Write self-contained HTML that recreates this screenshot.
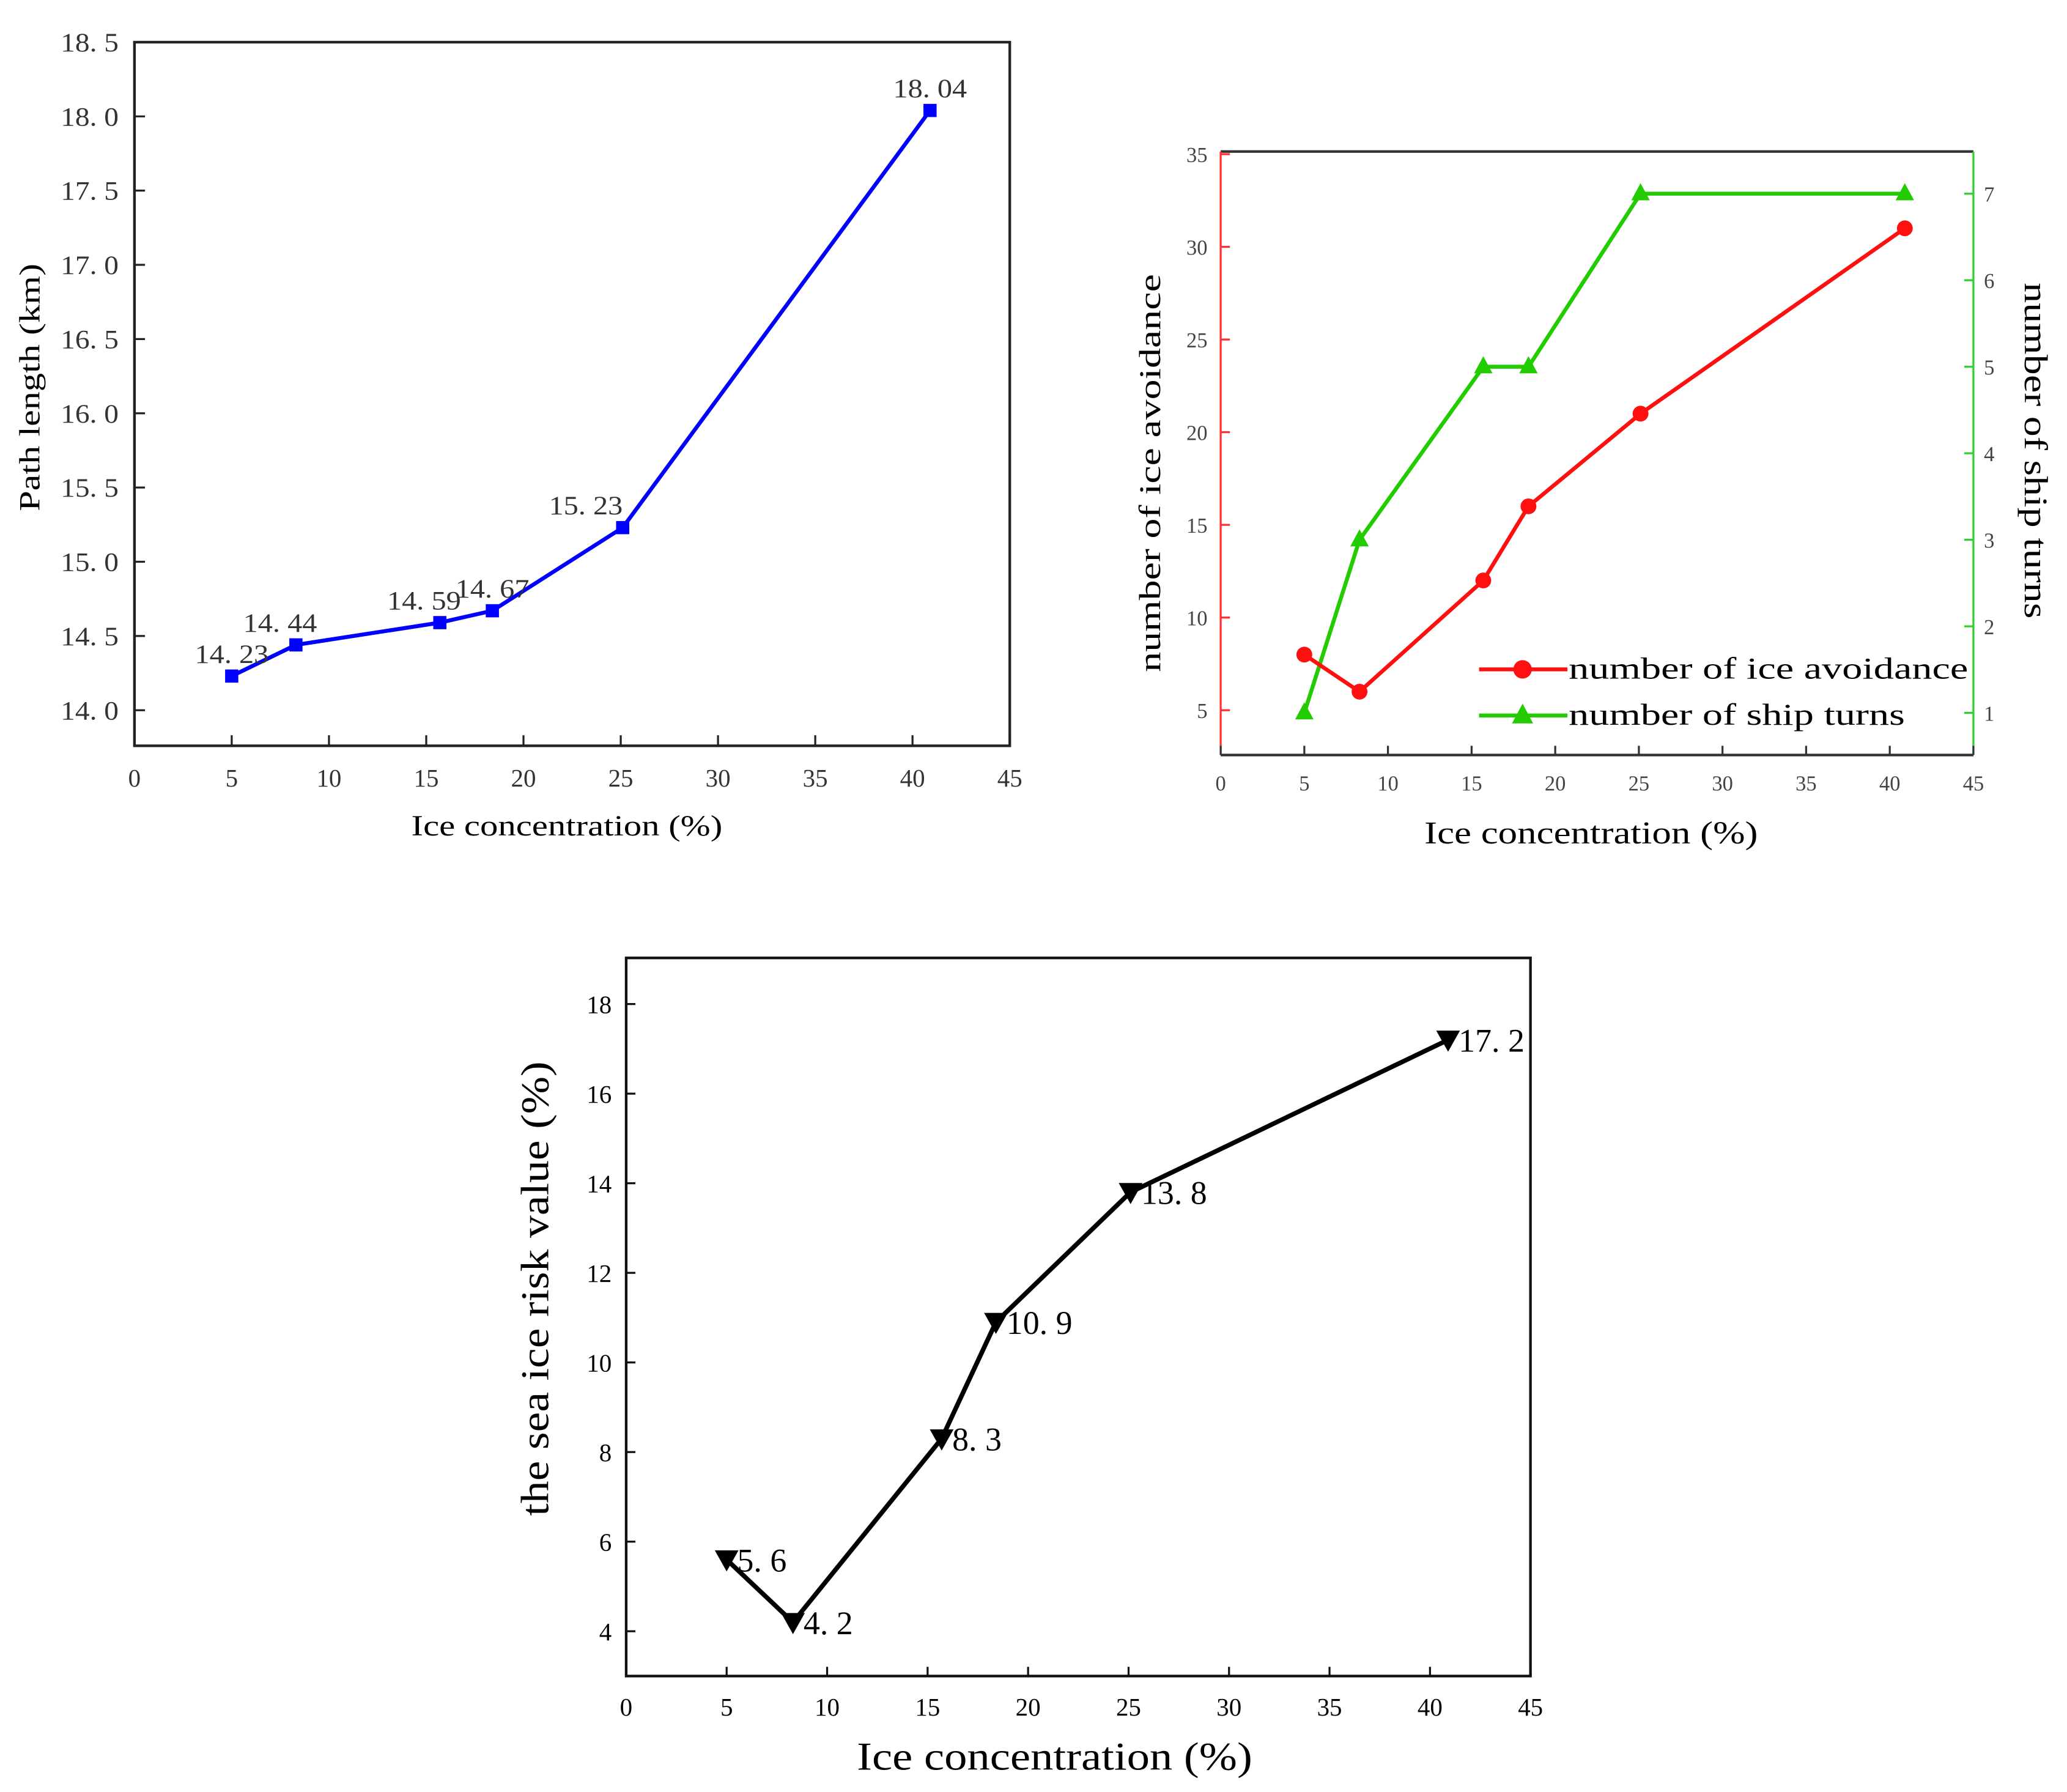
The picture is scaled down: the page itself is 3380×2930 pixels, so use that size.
<!DOCTYPE html>
<html><head><meta charset="utf-8"><style>
html,body{margin:0;padding:0;background:#fff;}
svg{display:block;}
text{font-family:"Liberation Serif",serif;}
</style></head><body>
<svg id="fig" width="3380" height="2930" viewBox="0 0 1568 1360" preserveAspectRatio="none" xmlns="http://www.w3.org/2000/svg">
<rect width="1568" height="1360" fill="#fff"/>
</svg>
<script>
const xVals = [5, 8.3, 15.7, 18.4, 25.1, 40.9];
const pathLen = [14.23, 14.44, 14.59, 14.67, 15.23, 18.04];
const pathLabels = ["14.23","14.44","14.59","14.67","15.23","18.04"];
const iceAvoid = [8, 6, 12, 16, 21, 31];
const shipTurns = [1, 3, 5, 5, 7, 7];
const riskVals = [5.6, 4.2, 8.3, 10.9, 13.8, 17.2];
const riskLabels = ["5.6","4.2","8.3","10.9","13.8","17.2"];
const xTicks = [0,5,10,15,20,25,30,35,40,45];
const y1Ticks = [14.0,14.5,15.0,15.5,16.0,16.5,17.0,17.5,18.0,18.5];
const y2Ticks = [5,10,15,20,25,30,35];
const y2rTicks = [1,2,3,4,5,6,7];
const y3Ticks = [4,6,8,10,12,14,16,18];

const svg = document.getElementById('fig');
const NS = 'http://www.w3.org/2000/svg';
function el(tag, attrs, parent){const e=document.createElementNS(NS,tag);for(const k in attrs)e.setAttribute(k,attrs[k]);(parent||svg).appendChild(e);return e;}
function txt(s, attrs, parent){const e=el('text',attrs,parent);e.textContent=s;if(attrs.textLength)e.setAttribute('lengthAdjust','spacingAndGlyphs');return e;}
function lin(d0,d1,r0,r1){return v=>r0+(v-d0)/(d1-d0)*(r1-r0);}

// ---------- Chart 1 ----------
const g1 = el('g',{});


const x1 = lin(0,45,102,766), y1 = lin(14.0,18.5,539,32);
const f1 = el('rect',{x:102,y:32,width:664,height:534,fill:'none',stroke:'#222','stroke-width':2},g1);


xTicks.forEach(t=>{
  el('line',{x1:x1(t),x2:x1(t),y1:566,y2:558,stroke:'#222','stroke-width':1.5},g1);
  const l=txt(String(t),{x:x1(t),y:597,'font-size':19,'text-anchor':'middle',fill:'#333'},g1);
  
  
});
y1Ticks.forEach(t=>{
  el('line',{x1:102,x2:110,y1:y1(t),y2:y1(t),stroke:'#222','stroke-width':1.5},g1);
  const l=txt(t.toFixed(1).replace('.','. '),{x:90,y:y1(t)+7,'font-size':20,'text-anchor':'end',fill:'#333',textLength:44},g1);
  
  
});
const p1 = el('polyline',{points:xVals.map((x,i)=>x1(x)+','+y1(pathLen[i])).join(' '),fill:'none',stroke:'#0000ff','stroke-width':3},g1);


xVals.forEach((x,i)=>{
  const m=el('rect',{x:x1(x)-5,y:y1(pathLen[i])-5,width:10,height:10,fill:'#0000ff'},g1);
  
  
  const dx = i===5?0:(i===4?-28:(i===0?0:(i===3?0:-12)));
  const l=txt(pathLabels[i].replace('.','. '),{x:x1(x)+dx,y:y1(pathLen[i])-10,'font-size':20,'text-anchor':'middle',fill:'#333',textLength:56},g1);
  
  
});
const yt1=txt('Path length (km)',{x:0,y:0,'font-size':22,'text-anchor':'middle',transform:'translate(30,294) rotate(-90)',textLength:188},g1);


const xt1=txt('Ice concentration (%)',{x:430,y:634,'font-size':22,'text-anchor':'middle',textLength:236},g1);



// ---------- Chart 2 ----------
const g2 = el('g',{});


const x2 = lin(0,45,926,1497), y2 = lin(5,35,539,117), y2r = lin(1,7,541,147);
el('line',{x1:926,x2:1497,y1:115,y2:115,stroke:'#333','stroke-width':2},g2);
el('line',{x1:926,x2:1497,y1:573,y2:573,stroke:'#333','stroke-width':2},g2);
const la=el('line',{x1:926,x2:926,y1:115,y2:573,stroke:'#ff3030','stroke-width':1.5},g2);


const ra=el('line',{x1:1497,x2:1497,y1:115,y2:573,stroke:'#30d030','stroke-width':1.5},g2);


xTicks.forEach(t=>{
  el('line',{x1:x2(t),x2:x2(t),y1:573,y2:566,stroke:'#333','stroke-width':1.5},g2);
  const l=txt(String(t),{x:x2(t),y:600,'font-size':16,'text-anchor':'middle',fill:'#444'},g2);
  
  
});
y2Ticks.forEach(t=>{
  el('line',{x1:926,x2:933,y1:y2(t),y2:y2(t),stroke:'#ff3030','stroke-width':1.5},g2);
  const l=txt(String(t),{x:916,y:y2(t)+6,'font-size':16,'text-anchor':'end',fill:'#444'},g2);
  
  
});
y2rTicks.forEach(t=>{
  el('line',{x1:1490,x2:1497,y1:y2r(t),y2:y2r(t),stroke:'#30d030','stroke-width':1.5},g2);
  const l=txt(String(t),{x:1505,y:y2r(t)+6,'font-size':16,fill:'#444'},g2);
  
  
});
const ls2=el('polyline',{points:xVals.map((x,i)=>x2(x)+','+y2r(shipTurns[i])).join(' '),fill:'none',stroke:'#22cc00','stroke-width':3},g2);


const ls1=el('polyline',{points:xVals.map((x,i)=>x2(x)+','+y2(iceAvoid[i])).join(' '),fill:'none',stroke:'#ff1010','stroke-width':3},g2);


xVals.forEach((x,i)=>{
  const X=x2(x), Yt=y2r(shipTurns[i]);
  const m=el('polygon',{points:`${X},${Yt-8} ${X-7},${Yt+5} ${X+7},${Yt+5}`,fill:'#22cc00'},g2);
  
  
  const c=el('circle',{cx:X,cy:y2(iceAvoid[i]),r:6,fill:'#ff1010'},g2);
  
  
});
const leg1=el('g',{},g2);


el('line',{x1:1122,x2:1189,y1:508,y2:508,stroke:'#ff1010','stroke-width':3},leg1);
el('circle',{cx:1155,cy:508,r:7,fill:'#ff1010'},leg1);
txt('number of  ice avoidance',{x:1190,y:515,'font-size':23,'xml:space':'preserve',textLength:303},leg1);
const leg2=el('g',{},g2);


el('line',{x1:1122,x2:1189,y1:543,y2:543,stroke:'#22cc00','stroke-width':3},leg2);
el('polygon',{points:'1155,534 1147,549 1163,549',fill:'#22cc00'},leg2);
txt('number of ship turns',{x:1190,y:550,'font-size':23,textLength:255},leg2);
const yt2=txt('number of  ice avoidance',{x:0,y:0,'font-size':23,'text-anchor':'middle','xml:space':'preserve',transform:'translate(880,359) rotate(-90)',textLength:302},g2);


const yt2r=txt('number of ship turns',{x:0,y:0,'font-size':25,'text-anchor':'middle',transform:'translate(1536,342) rotate(90)',textLength:255},g2);


const xt2=txt('Ice concentration (%)',{x:1207,y:640,'font-size':24,'text-anchor':'middle',textLength:253},g2);



// ---------- Chart 3 ----------
const g3 = el('g',{});


const x3 = lin(0,45,475,1161), y3 = lin(4,18,1238,762);
const f3=el('rect',{x:475,y:727,width:686,height:545,fill:'none',stroke:'#111','stroke-width':2},g3);


xTicks.forEach(t=>{
  el('line',{x1:x3(t),x2:x3(t),y1:1272,y2:1265,stroke:'#111','stroke-width':1.5},g3);
  const l=txt(String(t),{x:x3(t),y:1302,'font-size':19,'text-anchor':'middle'},g3);
  
  
});
y3Ticks.forEach(t=>{
  el('line',{x1:475,x2:482,y1:y3(t),y2:y3(t),stroke:'#111','stroke-width':1.5},g3);
  const l=txt(String(t),{x:464,y:y3(t)+7,'font-size':19,'text-anchor':'end'},g3);
  
  
});
const p3=el('polyline',{points:xVals.map((x,i)=>x3(x)+','+y3(riskVals[i])).join(' '),fill:'none',stroke:'#000','stroke-width':3.5},g3);


xVals.forEach((x,i)=>{
  const X=x3(x), Y=y3(riskVals[i]);
  const m=el('polygon',{points:`${X-9},${Y-7} ${X+9},${Y-7} ${X},${Y+9}`,fill:'#000'},g3);
  
  
  const l=txt(riskLabels[i].replace('.','. '),{x:X+8,y:Y+9,'font-size':25},g3);
  
  
});
const yt3=txt('the sea ice risk value (%)',{x:0,y:0,'font-size':30,'text-anchor':'middle',transform:'translate(416,978) rotate(-90)',textLength:345},g3);


const xt3=txt('Ice concentration (%)',{x:800,y:1343,'font-size':30,'text-anchor':'middle',textLength:300},g3);


</script>
</body></html>
